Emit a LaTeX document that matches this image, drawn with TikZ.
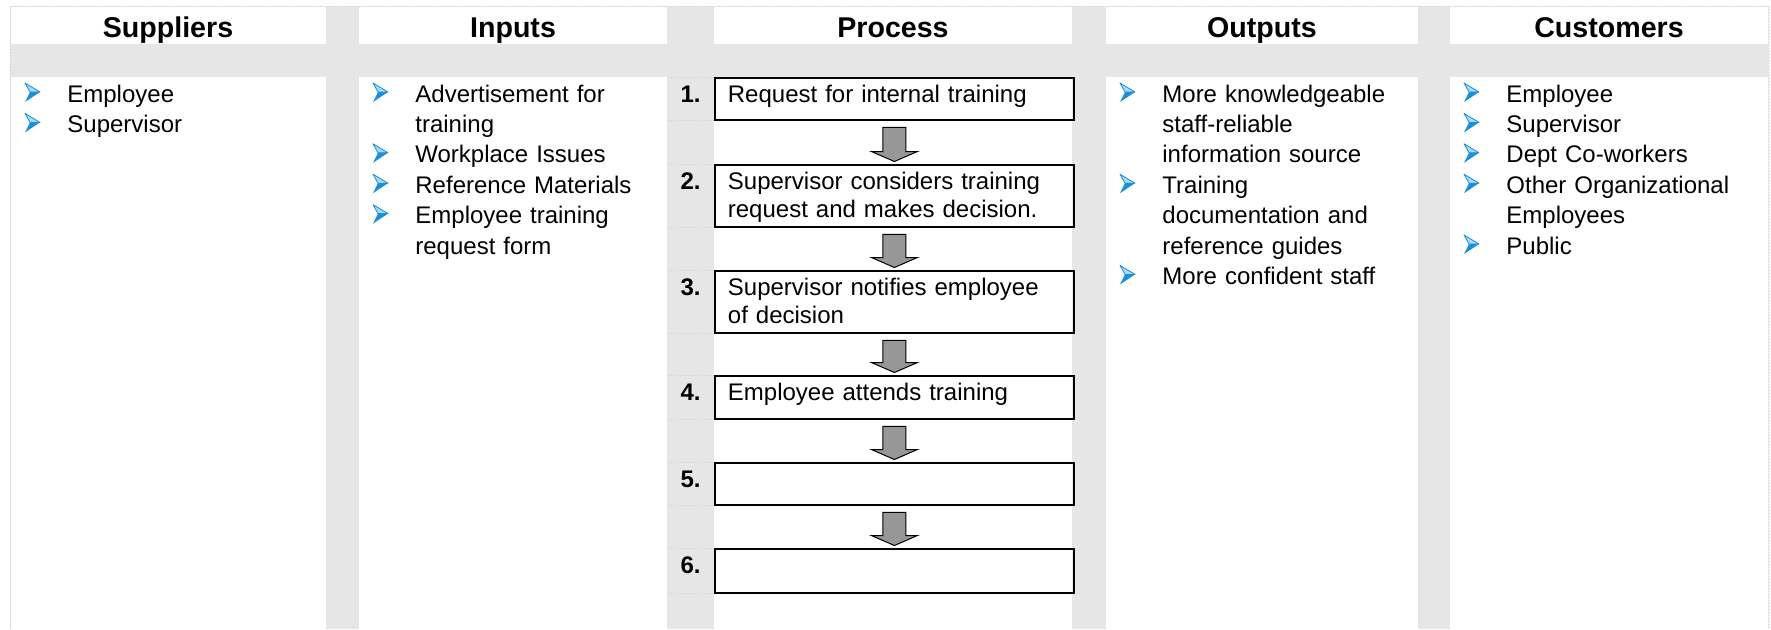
\documentclass[tikz,border=0pt]{standalone}
\usepackage{fontspec}
\setmainfont{Liberation Sans}
\usetikzlibrary{calc}

\definecolor{bandgray}{HTML}{E6E6E6}
\definecolor{rulegray}{HTML}{CFCFCF}
\definecolor{bulletblue}{HTML}{1B8FD8}
\definecolor{bulletlight}{HTML}{A9D9F6}
\definecolor{arrowgray}{HTML}{979797}

\begin{document}
\begin{tikzpicture}[x=0.5pt,y=-0.5pt,
    head/.style={font=\fontsize{14.3}{16}\selectfont\bfseries,anchor=base},
    item/.style={font=\fontsize{12}{15.2}\selectfont,anchor=base west,inner sep=0pt,text width=127.5pt,align=left},
    stepbox/.style={draw,line width=0.9pt,anchor=north west,inner xsep=6.5pt,inner ysep=0pt,
      text width=166.5pt,align=left,text height=12.5pt,font=\fontsize{12}{14}\selectfont},
    stepnum/.style={font=\fontsize{12}{14}\selectfont\bfseries,anchor=base east,inner sep=0pt},
    flowarrow/.style={draw=black,fill=arrowgray,line width=0.5pt,line join=miter},
    rowline/.style={rulegray,densely dotted,line width=0.5pt},
    pics/bullet/.style={code={
      \fill[bulletlight] (0,-19) -- (15,-10) -- (5,-10) -- cycle;
      \draw[bulletblue,line width=0.4pt,line join=round] (0,-19) -- (15,-10) -- (5,-10) -- cycle;
      \fill[bulletblue] (5,-10) -- (15,-10) -- (0,0) -- cycle;
    }}]

  \useasboundingbox (0,0) rectangle (1771,629);

  % table cells
  \fill[bandgray] (10,6) rectangle (1769,629);
  \foreach \l/\r in {11/326,359/667,714/1072,1106/1418,1450/1768} {
    \fill[white] (\l,7) rectangle (\r,44);
    \fill[white] (\l,77) rectangle (\r,629);
  }
  \draw[rowline] (10,629) -- (10,6) -- (1769,6) -- (1769,629);

  % column heads
  \node[head] (hsup)  at (168,37)  {Suppliers};
  \node[head] (hinp)  at (513,37)  {Inputs};
  \node[head] (hproc) at (893,37)  {Process};
  \node[head] (hout)  at (1262,37) {Outputs};
  \node[head] (hcus)  at (1609,37) {Customers};

  % process steps
  \node[stepbox,text depth=8.5pt]  (b1) at (714,77)  {Request for internal training};
  \node[stepbox,text depth=18.5pt] (b2) at (714,164) {Supervisor considers training\\request and makes decision.};
  \node[stepbox,text depth=18.5pt] (b3) at (714,270) {Supervisor notifies employee\\of decision};
  \node[stepbox,text depth=9pt]    (b4) at (714,375) {Employee attends training};
  \node[stepbox,text depth=8.5pt]  (b5) at (714,462) {};
  \node[stepbox,text depth=9.5pt]  (b6) at (714,548) {};

  \foreach \i in {1,...,6} {
    \node[stepnum] (n\i) at ([xshift=-6.5pt]b\i.base west) {\i.};
    \draw[rowline] (b\i.north west) -- ++(-47,0);
    \draw[rowline] (b\i.south west) -- ++(-47,0);
  }

  \foreach \a/\b in {b1/b2,b2/b3,b3/b4,b4/b5,b5/b6}
    \filldraw[flowarrow] ($(\a.south)+(-11.5,6.5)$) -- ($(\a.south)+(11.5,6.5)$)
      -- ($(\b.north)+(11.5,-12.5)$) -- ($(\b.north)+(23,-12.5)$) -- ($(\b.north)+(0,-2.5)$)
      -- ($(\b.north)+(-23,-12.5)$) -- ($(\b.north)+(-11.5,-12.5)$) -- cycle;

  % bullet lists
  \foreach \n/\t [count=\i] in {0/Employee,1/Supervisor} {
    \node[item] (sup\i) at (67,{102+30.4*\n}) {\t};
    \pic at ($(sup\i.base west)+(-42,0)$) {bullet};
  }
  \foreach \n/\t [count=\i] in {0/{Advertisement for\\training},2/Workplace Issues,
      3/Reference Materials,4/{Employee training\\request form}} {
    \node[item] (inp\i) at (415,{102+30.4*\n}) {\t};
    \pic at ($(inp\i.base west)+(-42,0)$) {bullet};
  }
  \foreach \n/\t [count=\i] in {0/{More knowledgeable\\staff-reliable\\information source},
      3/{Training\\documentation and\\reference guides},6/More confident staff} {
    \node[item] (out\i) at (1162,{102+30.4*\n}) {\t};
    \pic at ($(out\i.base west)+(-42,0)$) {bullet};
  }
  \foreach \n/\t [count=\i] in {0/Employee,1/Supervisor,2/Dept Co-workers,
      3/{Other Organizational\\Employees},5/Public} {
    \node[item] (cus\i) at (1506,{102+30.4*\n}) {\t};
    \pic at ($(cus\i.base west)+(-42,0)$) {bullet};
  }

\end{tikzpicture}
\end{document}
